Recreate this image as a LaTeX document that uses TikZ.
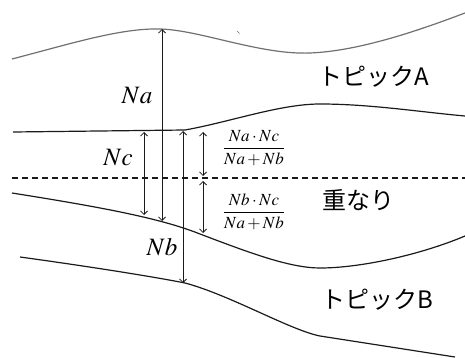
\documentclass[tikz,border=0pt]{standalone}
\usepackage{amsmath}
\usepackage{mathptmx}
\usepackage[no-math]{fontspec}
\usetikzlibrary{arrows.meta}
\newfontfamily\jpfont{Noto Sans CJK JP}
\definecolor{tpGray}{HTML}{707070}
\definecolor{tpInk}{HTML}{1A1A1A}

\begin{document}
\begin{tikzpicture}[x=1pt,y=-1pt,>={Straight Barb[length=3.5pt,width=7pt]},
		edge/.style={tpInk,line width=1.2pt},
		span/.style={tpInk,line width=0.8pt,<->},
		var/.style={font=\fontsize{25}{25}\selectfont,inner sep=0pt},
		ratio/.style={font=\fontsize{17}{17}\selectfont,inner sep=0pt},
		topic/.style={font=\jpfont\fontsize{24}{24}\selectfont,inner sep=0pt}]
		\useasboundingbox (0,0) rectangle (465,358);
		% boundaries of the two topics
		\draw[tpGray,line width=1.2pt] (12,59) .. controls (70,44) and (120,28) .. (160,29)
			.. controls (200,30) and (260,55) .. (310,53) .. controls (360,51) and (420,30) .. (465,13);
		\draw[tpGray,line width=0.6pt] (237,31) -- (239.5,33.5);
		\draw[edge] (13,132) -- (185,130) .. controls (230,122) and (280,104) .. (320,104)
			.. controls (370,104) and (420,112) .. (465,116);
		\draw[edge,dash pattern=on 6pt off 4pt] (12,178) -- (465,178);
		\draw[edge] (12,193) .. controls (100,207) and (160,218) .. (200,234)
			.. controls (250,253) and (290,268) .. (320,268) .. controls (360,268) and (420,255) .. (465,236);
		\draw[edge] (20,257) .. controls (100,268) and (160,278) .. (185,283)
			.. controls (230,295) and (290,330) .. (320,336) -- (455,357);
		% arrow ends
		\coordinate (ncTop) at (144,132);
		\coordinate (ncBot) at (144,215);
		\coordinate (naTop) at (162,29);
		\coordinate (naBot) at (162,221);
		\coordinate (nbTop) at (183,131);
		\coordinate (nbBot) at (183,283);
		\coordinate (raTop) at (203,132);
		\coordinate (raBot) at (203,176);
		\coordinate (rbTop) at (203,181);
		\coordinate (rbBot) at (203,233);
		\draw[span] (ncTop) -- (ncBot);
		\draw[span] (naTop) -- (naBot);
		\draw[span] (nbTop) -- (nbBot);
		\draw[span] (raTop) -- (raBot);
		\draw[span] (rbTop) -- (rbBot);
		% labels
		\node[var] (na) at (137,96) {$Na$};
		\node[var] (nc) at (118,158) {$Nc$};
		\node[var] (nb) at (162,247) {$Nb$};
		\node[ratio] (ra) at (254,148) {$\dfrac{Na\cdot Nc}{Na+Nb}$};
		\node[ratio] (rb) at (254,212) {$\dfrac{Nb\cdot Nc}{Na+Nb}$};
		\node[topic] (topicA) at (374,77) {トピックA};
		\node[topic] (overlap) at (358,200) {重なり};
		\node[topic] (topicB) at (377,300) {トピックB};
	\end{tikzpicture}
\end{document}
